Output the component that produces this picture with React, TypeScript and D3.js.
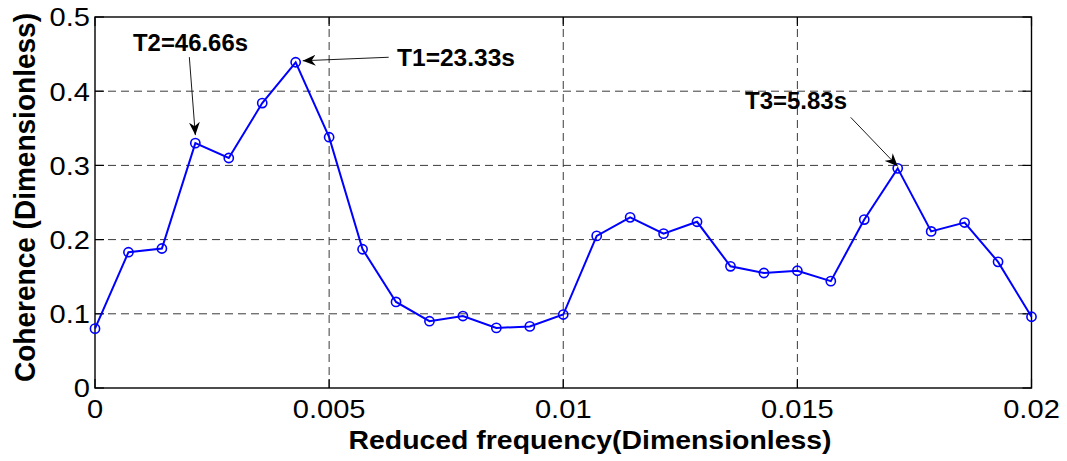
import React from 'react';
import * as d3 from 'd3';

// reduced frequency samples (29 equally spaced, 0 .. 0.02)
const frequency = d3.range(29).map((i) => (i * 0.02) / 28);
const coherence = [
  0.08, 0.183, 0.188, 0.33, 0.31, 0.384, 0.439, 0.338, 0.187, 0.116,
  0.09, 0.097, 0.081, 0.083, 0.099, 0.205, 0.23, 0.208, 0.224, 0.164,
  0.155, 0.158, 0.144, 0.227, 0.296, 0.211, 0.223, 0.17, 0.096,
];
const xTicks = [0, 0.005, 0.01, 0.015, 0.02];
const xTickLabels = ['0', '0.005', '0.01', '0.015', '0.02'];
const yTicks = [0, 0.1, 0.2, 0.3, 0.4, 0.5];
const yTickLabels = ['0', '0.1', '0.2', '0.3', '0.4', '0.5'];
const peakLabels = ['T2=46.66s', 'T1=23.33s', 'T3=5.83s'];
const peakIndex = [3, 6, 24];

const W = 1067;
const H = 461;
const margin = { left: 95, right: 35.5, top: 17, bottom: 73 };
const FONT = '"Liberation Sans", Arial, Helvetica, sans-serif';

const App: React.FC = () => {
  const x = d3
    .scaleLinear()
    .domain([0, 0.02])
    .range([margin.left, W - margin.right]);
  const y = d3
    .scaleLinear()
    .domain([0, 0.5])
    .range([H - margin.bottom, margin.top]);

  const x0 = x.range()[0];
  const x1 = x.range()[1];
  const y0 = y.range()[0];
  const y1 = y.range()[1];

  const pts = frequency.map((f, i) => [f, coherence[i]] as [number, number]);
  const line = d3
    .line<[number, number]>()
    .x((d) => x(d[0]))
    .y((d) => y(d[1]));

  // label placement relative to the peak point (pixel offsets)
  const notes = [
    { tx: 133, ty: 51, len: 115, from: [-6, -86], to: [0, -8] },
    { tx: 397, ty: 66, len: 118, from: [93, -5], to: [7, -1.5] },
    { tx: 745, ty: 109, len: 102, from: [-47, -51], to: [0, -2] },
  ];

  return (
    <svg
      width={W}
      height={H}
      style={{ position: 'absolute', left: 0, top: 0, background: '#fff' }}
      fontFamily={FONT}
    >
      <defs>
        <marker
          id="arrow"
          viewBox="0 0 13 11"
          refX="13"
          refY="5.5"
          markerWidth="13"
          markerHeight="11"
          markerUnits="userSpaceOnUse"
          orient="auto"
        >
          <path d="M0,0 L13,5.5 L0,11 L4,5.5 Z" fill="#000" />
        </marker>
      </defs>

      {/* grid */}
      <g stroke="#3a3a3a" strokeWidth={1} strokeDasharray="8,5">
        {xTicks.slice(1, -1).map((t) => (
          <line key={'gx' + t} x1={x(t)} x2={x(t)} y1={y0} y2={y1} />
        ))}
        {yTicks.slice(1, -1).map((t) => (
          <line key={'gy' + t} x1={x0} x2={x1} y1={y(t)} y2={y(t)} />
        ))}
      </g>

      {/* box and inward ticks */}
      <rect
        x={x0}
        y={y1}
        width={x1 - x0}
        height={y0 - y1}
        fill="none"
        stroke="#000"
        strokeWidth={1.4}
      />
      <g stroke="#000" strokeWidth={1.2}>
        {xTicks.map((t) => (
          <g key={'tx' + t}>
            <line x1={x(t)} x2={x(t)} y1={y0} y2={y0 - 9} />
            <line x1={x(t)} x2={x(t)} y1={y1} y2={y1 + 9} />
          </g>
        ))}
        {yTicks.map((t) => (
          <g key={'ty' + t}>
            <line x1={x0} x2={x0 + 9} y1={y(t)} y2={y(t)} />
            <line x1={x1} x2={x1 - 9} y1={y(t)} y2={y(t)} />
          </g>
        ))}
      </g>

      {/* tick labels */}
      <g fontSize={26} fill="#000">
        {xTicks.map((t, i) => (
          <text
            key={'lx' + t}
            textAnchor="middle"
            transform={`translate(${x(t)},418) scale(1.12,1)`}
          >
            {xTickLabels[i]}
          </text>
        ))}
        {yTicks.map((t, i) => (
          <text
            key={'ly' + t}
            textAnchor="end"
            transform={`translate(${x0 - 5},${y(t) + 9.3}) scale(1.12,1)`}
          >
            {yTickLabels[i]}
          </text>
        ))}
      </g>

      {/* axis titles */}
      <text
        x={590}
        y={449}
        fontSize={25}
        fontWeight="bold"
        textAnchor="middle"
        textLength={483}
        lengthAdjust="spacingAndGlyphs"
      >
        Reduced frequency(Dimensionless)
      </text>
      <text
        transform="translate(35,197.5) rotate(-90)"
        fontSize={29}
        fontWeight="bold"
        textAnchor="middle"
        textLength={369}
        lengthAdjust="spacingAndGlyphs"
      >
        Coherence (Dimensionless)
      </text>

      {/* data */}
      <path d={line(pts) || ''} fill="none" stroke="#0000ff" strokeWidth={2} />
      {pts.map((d, i) => (
        <circle
          key={'p' + i}
          cx={x(d[0])}
          cy={y(d[1])}
          r={4.6}
          fill="none"
          stroke="#0000ff"
          strokeWidth={1.6}
        />
      ))}

      {/* peak annotations */}
      {notes.map((n, k) => {
        const px = x(frequency[peakIndex[k]]);
        const py = y(coherence[peakIndex[k]]);
        return (
          <g key={'n' + k}>
            <line
              x1={px + n.from[0]}
              y1={py + n.from[1]}
              x2={px + n.to[0]}
              y2={py + n.to[1]}
              stroke="#000"
              strokeWidth={0.9}
              markerEnd="url(#arrow)"
            />
            <text
              x={n.tx}
              y={n.ty}
              fontSize={23}
              fontWeight="bold"
              textLength={n.len}
              lengthAdjust="spacingAndGlyphs"
            >
              {peakLabels[k]}
            </text>
          </g>
        );
      })}
    </svg>
  );
};

export default App;
